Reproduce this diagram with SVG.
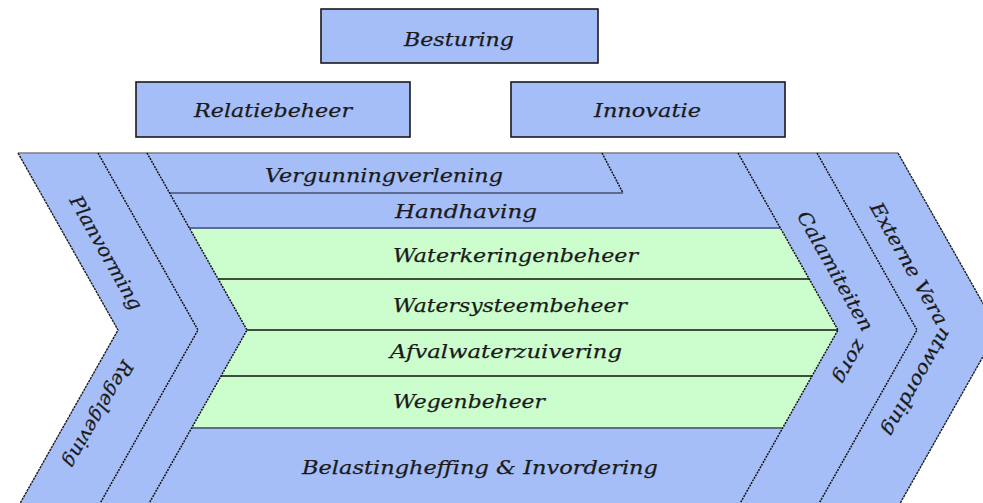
<svg xmlns="http://www.w3.org/2000/svg" width="983" height="503" viewBox="0 0 983 503">
<style>
.blue{fill:#a6bef7}
.green{fill:#ccfdcc}
.box{fill:#a6bef7;stroke:#1a1a1a;stroke-width:1.6}
.edge{fill:none;stroke:#1e1e1e;stroke-width:1.4;stroke-dasharray:2.5 0.8}
.div{fill:none;stroke:#111;stroke-width:1.5;stroke-dasharray:2 1}
.row{stroke:#111;stroke-width:1.6}
.sep{stroke:#5d6d92;stroke-width:2}
.top{stroke:#7c7c7c;stroke-width:1.6}
.t{font-family:"DejaVu Serif","Liberation Serif",serif;font-style:italic;font-size:19px;fill:#1a1a1a;stroke:#1a1a1a;stroke-width:0.25}
</style>
<defs>
<path id="pCal" d="M761,153 L861,330 L761,507"/>
<path id="pExt" d="M839,153 L939,330 L839,507"/>
</defs>
<rect width="983" height="503" fill="#ffffff"/>

<g id="node-besturing">
<rect class="box" x="321" y="9" width="277" height="54"/>
<text class="t" x="404" y="46" textLength="110" lengthAdjust="spacingAndGlyphs">Besturing</text>
</g>
<g id="node-relatiebeheer">
<rect class="box" x="136" y="82" width="274" height="55"/>
<text class="t" x="194" y="117" textLength="158" lengthAdjust="spacingAndGlyphs">Relatiebeheer</text>
</g>
<g id="node-innovatie">
<rect class="box" x="511" y="82" width="274" height="55"/>
<text class="t" x="594" y="117" textLength="107" lengthAdjust="spacingAndGlyphs">Innovatie</text>
</g>

<g id="node-planvorming-regelgeving">
<polygon class="blue" points="18,153 98,153 198,330 98,507 18,507 118,330"/>
<text class="t" transform="translate(100.5,256) rotate(60.5)" text-anchor="middle" textLength="128" lengthAdjust="spacingAndGlyphs">Planvorming</text>
<text class="t" transform="translate(93,411) rotate(120)" text-anchor="middle" textLength="120" lengthAdjust="spacingAndGlyphs">Regelgeving</text>
</g>
<g id="node-band2">
<polygon class="blue" points="98,153 147,153 247,330 147,507 98,507 198,330"/>
</g>
<g id="node-primair">
<polygon class="blue" points="147,153 738,153 838,330 738,507 147,507 247,330"/>
</g>
<g id="node-calamiteiten">
<polygon class="blue" points="738,153 817,153 917,330 817,507 738,507 838,330"/>
<text class="t"><textPath href="#pCal" startOffset="72" textLength="188" lengthAdjust="spacingAndGlyphs">Calamiteiten zorg</textPath></text>
</g>
<g id="node-externe">
<polygon class="blue" points="817,153 898,153 998,330 898,507 817,507 917,330"/>
<text class="t"><textPath href="#pExt" startOffset="62" textLength="258" lengthAdjust="spacingAndGlyphs">Externe Verantwoording</textPath></text>
</g>

<g id="node-vergunningverlening">
<polygon class="blue" points="147,153 602,153 623,193 169.6,193"/>
<text class="t" x="265" y="182" textLength="238" lengthAdjust="spacingAndGlyphs">Vergunningverlening</text>
</g>
<g id="node-handhaving">
<text class="t" x="395" y="218" textLength="142" lengthAdjust="spacingAndGlyphs">Handhaving</text>
</g>
<g id="node-waterkeringenbeheer">
<polygon class="green" points="189.4,228 780.4,228 809.2,279 218.2,279"/>
<text class="t" x="393" y="262" textLength="245" lengthAdjust="spacingAndGlyphs">Waterkeringenbeheer</text>
</g>
<g id="node-watersysteembeheer">
<polygon class="green" points="218.2,279 809.2,279 838,330 247,330"/>
<text class="t" x="393" y="312" textLength="234" lengthAdjust="spacingAndGlyphs">Watersysteembeheer</text>
</g>
<g id="node-afvalwaterzuivering">
<polygon class="green" points="247,330 838,330 812,376 221,376"/>
<text class="t" x="390" y="358" textLength="232" lengthAdjust="spacingAndGlyphs">Afvalwaterzuivering</text>
</g>
<g id="node-wegenbeheer">
<polygon class="green" points="221,376 812,376 782.6,428 191.6,428"/>
<text class="t" x="393" y="408" textLength="152" lengthAdjust="spacingAndGlyphs">Wegenbeheer</text>
</g>
<g id="node-belastingheffing">
<text class="t" x="302" y="474" textLength="356" lengthAdjust="spacingAndGlyphs">Belastingheffing &amp; Invordering</text>
</g>

<g id="connectors">
<line class="top" x1="18" y1="153" x2="898" y2="153"/>
<line class="sep" x1="169.6" y1="193" x2="623" y2="193"/>
<line class="div" x1="602" y1="153" x2="623" y2="193"/>
<line class="sep" x1="189.4" y1="228" x2="780.4" y2="228"/>
<line class="row" x1="218.2" y1="279" x2="809.2" y2="279"/>
<line class="row" x1="247" y1="330" x2="838" y2="330"/>
<line class="row" x1="221" y1="376" x2="812" y2="376"/>
<line class="sep" x1="191.6" y1="428" x2="782.6" y2="428"/>
<polyline class="edge" points="18,153 118,330 18,507"/>
<polyline class="div" points="98,153 198,330 98,507"/>
<polyline class="div" points="147,153 247,330 147,507"/>
<polyline class="div" points="738,153 838,330 738,507"/>
<polyline class="div" points="817,153 917,330 817,507"/>
<polyline class="edge" points="898,153 998,330 898,507"/>
</g>
</svg>
